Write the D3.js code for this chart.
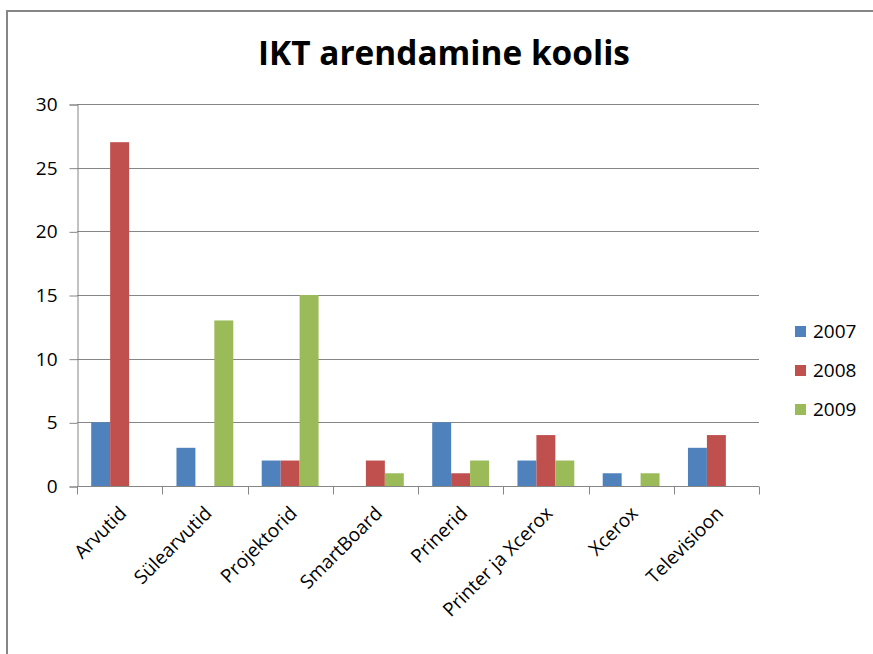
<!DOCTYPE html>
<html>
<head>
<meta charset="utf-8">
<script src="https://cdn.jsdelivr.net/npm/d3@7"></script>
<style>
	body { margin: 0; background: #fff; }
	svg text { font-family: "Open Sans", "DejaVu Sans", sans-serif; fill: #000; }
</style>
</head>
<body>
<div id="chart"></div>
<script>
var categories = ["Arvutid", "Sülearvutid", "Projektorid", "SmartBoard", "Prinerid", "Printer ja Xcerox", "Xcerox", "Televisioon"];
var years = ["2007", "2008", "2009"];
var v2007 = [5, 3, 2, 0, 5, 2, 1, 3];
var v2008 = [27, 0, 2, 2, 1, 4, 0, 4];
var v2009 = [0, 13, 15, 1, 2, 2, 1, 0];
var yTicks = [0, 5, 10, 15, 20, 25, 30];
var colors = ["#4F81BD", "#C0504D", "#9BBB59"];

function drawChart(){
	var w = 873, h = 654;
	var pLeft = 77, pRight = 759, pTop = 104, pBottom = 486;
	var gray = "#868686";

	var svg = d3.select("#chart").append("svg")
				.attr("width", w)
				.attr("height", h);

	// chart frame, runs off the right and bottom edge
	svg.append("rect")
		.attr("x", 7).attr("y", 11)
		.attr("width", 900).attr("height", 700)
		.attr("fill", "none")
		.attr("stroke", gray)
		.attr("stroke-width", 2);

	var title = svg.append("text")
		.attr("x", 444).attr("y", 65)
		.attr("text-anchor", "middle")
		.attr("font-weight", "bold")
		.attr("font-size", 32)
		.text("IKT arendamine koolis");
	var tw = title.node().getComputedTextLength();
	title.attr("font-size", 32 * 372 / tw);

	var x0 = d3.scaleBand().domain(categories).range([pLeft, pRight]);
	var x1 = d3.scaleBand().domain(years).range([0, x0.bandwidth()]).paddingOuter(0.75);
	var y = d3.scaleLinear().domain([0, 30]).range([pBottom, pTop]);

	// gridlines
	svg.selectAll(".grid").data(yTicks.slice(1)).enter().append("line")
		.attr("class", "grid")
		.attr("x1", pLeft).attr("x2", pRight)
		.attr("y1", function(d){ return Math.round(y(d)) + 0.5; })
		.attr("y2", function(d){ return Math.round(y(d)) + 0.5; })
		.attr("stroke", gray);

	var yAxis = svg.append("g")
		.attr("transform", "translate(" + (pLeft + 0.5) + ",0.5)")
		.call(d3.axisLeft(y).tickValues(yTicks).tickSize(8).tickPadding(12));
	yAxis.select(".domain").attr("stroke", gray);
	yAxis.selectAll(".tick line").attr("stroke", gray);
	yAxis.selectAll(".tick text")
		.attr("font-size", 19)
		.attr("font-family", "Open Sans")
		.attr("fill", "#000");

	// bars
	var series = [v2007, v2008, v2009];
	series.forEach(function(vals, s){
		svg.selectAll(".bar" + s).data(vals).enter().append("rect")
			.attr("class", "bar" + s)
			.attr("x", function(d, i){ return x0(categories[i]) + x1(years[s]); })
			.attr("width", x1.bandwidth())
			.attr("y", function(d){ return y(d); })
			.attr("height", function(d){ return y(0) - y(d); })
			.attr("fill", colors[s]);
	});

	// category axis
	var xAxis = svg.append("g")
		.attr("transform", "translate(0," + (pBottom + 0.5) + ")");
	xAxis.append("line")
		.attr("x1", pLeft).attr("x2", pRight)
		.attr("stroke", gray);
	var bounds = categories.map(function(c){ return x0(c); }).concat([pRight]);
	xAxis.selectAll(".ctick").data(bounds).enter().append("line")
		.attr("class", "ctick")
		.attr("x1", function(d){ return Math.round(d) + 0.5; })
		.attr("x2", function(d){ return Math.round(d) + 0.5; })
		.attr("y1", 0).attr("y2", 8)
		.attr("stroke", gray);
	xAxis.selectAll(".clabel").data(categories).enter().append("text")
		.attr("class", "clabel")
		.attr("text-anchor", "end")
		.attr("font-size", 19)
		.attr("transform", function(d){
			return "translate(" + (x0(d) + x0.bandwidth() / 2 + 8) + ",28) rotate(-45)";
		})
		.text(function(d){ return d; });

	// legend
	var legend = svg.selectAll(".leg").data(years).enter().append("g")
		.attr("class", "leg")
		.attr("transform", function(d, i){ return "translate(795," + (331 + i * 39) + ")"; });
	legend.append("rect")
		.attr("x", 0).attr("y", -5)
		.attr("width", 11).attr("height", 11)
		.attr("fill", function(d, i){ return colors[i]; });
	legend.append("text")
		.attr("x", 18).attr("dy", "0.35em")
		.attr("font-size", 19)
		.text(function(d){ return d; });
}

drawChart();
</script>
</body>
</html>
